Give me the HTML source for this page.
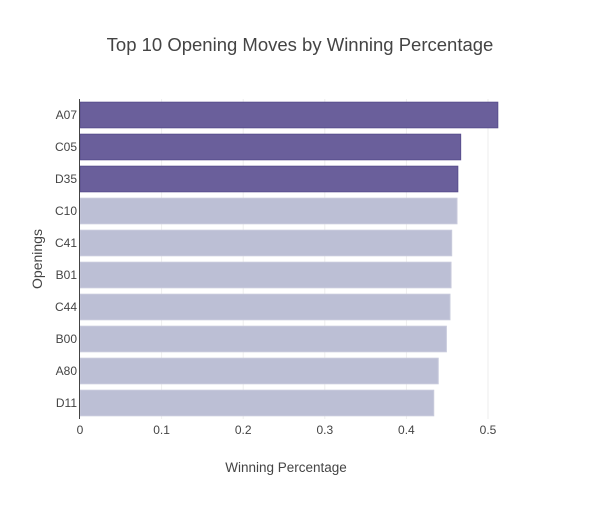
<!DOCTYPE html>
<html><head><meta charset="utf-8"><style>
body{margin:0;background:#fff;font-family:"Liberation Sans",sans-serif}
</style></head><body>
<svg id="chart" width="600" height="500" xmlns="http://www.w3.org/2000/svg"></svg>
<script>
const categories=["A07","C05","D35","C10","C41","B01","C44","B00","A80","D11"];
const values=[0.512,0.4665,0.463,0.462,0.4555,0.4547,0.4534,0.449,0.439,0.4335];
const highlighted=[true,true,true,false,false,false,false,false,false,false];
const ticks=[0,0.1,0.2,0.3,0.4,0.5];
const tickLabels=["0","0.1","0.2","0.3","0.4","0.5"];
const svg=document.getElementById('chart');
const NS="http://www.w3.org/2000/svg";
const L=80,T=99,H=320,scale=816;
const x=v=>L+v*scale;
const band=H/categories.length;
const y=i=>T+i*band;
function mk(tag,attrs,parent){const e=document.createElementNS(NS,tag);for(const k in attrs)e.setAttribute(k,attrs[k]);(parent||svg).appendChild(e);return e;}
ticks.forEach((t,i)=>{
  if(t>0){const g=mk('line',{x1:x(t),x2:x(t),y1:T,y2:T+H,stroke:'#eee','stroke-width':1});
  
  }
  const tx=mk('text',{x:x(t),y:T+H+15,'text-anchor':'middle','font-size':12,fill:'#444'});
  tx.textContent=tickLabels[i];
  
  
});
categories.forEach((c,i)=>{
  const r=mk('rect',{x:L,y:y(i)+band*0.1,width:x(values[i])-L,height:band*0.8,fill:highlighted[i]?'#6a5f9b':'#bcbfd5',stroke:highlighted[i]?'#5a4f8e':'#c8cadc','stroke-width':1});
  
  
  const tx=mk('text',{x:L-3,y:y(i)+band/2+4,'text-anchor':'end','font-size':12,fill:'#444'});
  tx.textContent=c;
  
  
});
const ax=mk('line',{x1:L-0.5,x2:L-0.5,y1:T,y2:T+H,stroke:'#444','stroke-width':1});


const title=mk('text',{x:300,y:51,'text-anchor':'middle','font-size':18.5,fill:'#444'});
title.textContent='Top 10 Opening Moves by Winning Percentage';


const xt=mk('text',{x:286,y:472,'text-anchor':'middle','font-size':13.5,fill:'#444'});
xt.textContent='Winning Percentage';


const yt=mk('text',{x:0,y:0,'text-anchor':'middle','font-size':14,fill:'#444',transform:'translate(42,259) rotate(-90)'});
yt.textContent='Openings';


</script>
</body></html>
